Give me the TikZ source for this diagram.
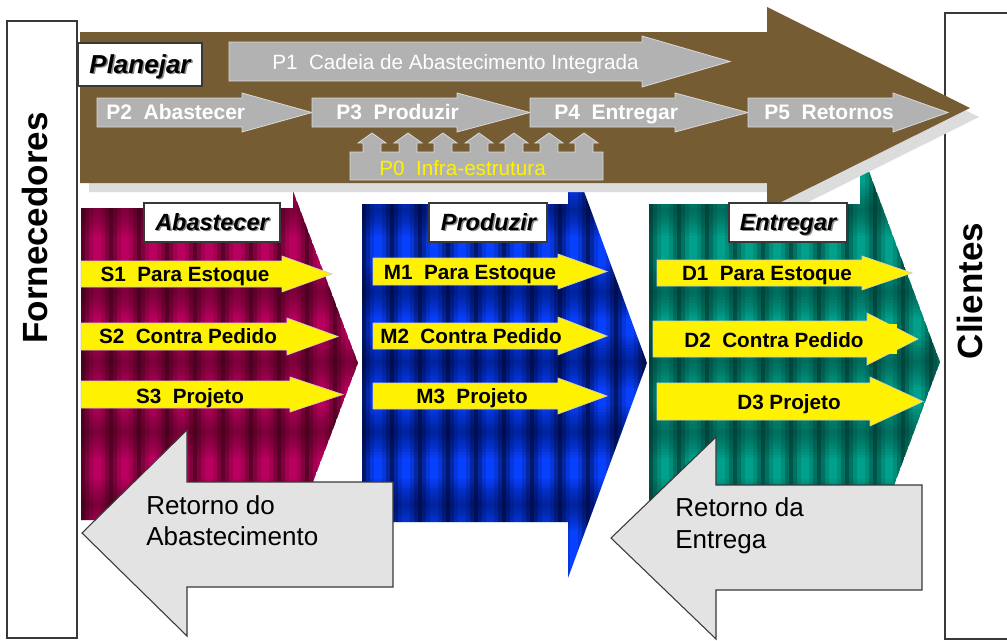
\documentclass[tikz,border=0pt]{standalone}
\usepackage{fontspec}
\setmainfont{Liberation Sans}
\definecolor{brownA}{HTML}{765C32}
\definecolor{shadowA}{HTML}{DCDCDC}
\definecolor{pgray}{HTML}{B2B2B2}
\definecolor{pborder}{HTML}{DADADA}
\definecolor{retgray}{HTML}{E3E3E3}
\definecolor{edgeA}{HTML}{383838}
\definecolor{mrB}{HTML}{BA005E}
\definecolor{mrD}{HTML}{3C0018}
\definecolor{blB}{HTML}{0840FF}
\definecolor{blD}{HTML}{000838}
\definecolor{tlB}{HTML}{00A08A}
\definecolor{tlD}{HTML}{003A32}
% chevron: #1 xl, #2 ytop, #3 ybot, #4 head base x, #5 tip x, #6 tip y, #7 head half height, #8 colour prefix, #9 columns
\newcommand\mychev[9]{%
\begin{scope}
\clip ({#1},{#2}) -- ({#4},{#2}) -- ({#4},{#6-#7}) -- ({#5},{#6}) -- ({#4},{#6+#7}) -- ({#4},{#3}) -- ({#1},{#3}) -- cycle;
\foreach \k in {0,...,#9} {%
  \foreach \s/\m in {0/75,1/45,2/18,3/0,4/0,5/18,6/45} {%
    \fill[#8D!\m!#8B] ({#1+28*\k+4*\s},{#6-#7}) rectangle ({#1+28*\k+4*\s+4.4},{#6+#7});}}
\foreach \yc in {210,292,362,432,505} {\foreach \h in {26,23,20,17,14,11,8,5,2} {\fill[#8D, opacity=0.065] ({#1},{\yc-\h}) rectangle ({#5},{\yc+\h});}}
\end{scope}}
% right arrow: #1 style, #2 x0, #3 head base x, #4 ytop, #5 ybot, #6 head extra, #7 tip x
\newcommand\rarrow[7]{%
\path[#1] ({#2},{#4}) -- ({#3},{#4}) -- ({#3},{#4-#6}) -- ({#7},{(#4+#5)/2}) -- ({#3},{#5+#6}) -- ({#3},{#5}) -- ({#2},{#5}) -- cycle;}
\begin{document}
\begin{tikzpicture}[x=0.75pt,y=-0.75pt,
  sidebox/.style={fill=white, draw=edgeA, line width=0.8pt},
  sidetext/.style={font=\fontsize{26.25}{30}\selectfont\bfseries, rotate=90, anchor=base, inner sep=0pt},
  parrow/.style={fill=pgray, draw=pborder, line width=0.6pt},
  yarrow/.style={fill=yellow, draw=white!80!black, line width=0.5pt},
  retarrow/.style={fill=retgray, draw=edgeA, line width=0.8pt},
  labelbox/.style={fill=white, draw=edgeA, line width=0.8pt},
  lbltext/.style={font=\fontsize{17.6}{20}\selectfont\bfseries\itshape, inner sep=0pt, anchor=base},
  pbold/.style={font=\fontsize{15.75}{18}\selectfont\bfseries, text=white, inner sep=0pt, anchor=base west},
  preg/.style={font=\fontsize{15.5}{18}\selectfont, inner sep=0pt, anchor=base west},
  ytext/.style={font=\fontsize{15.5}{18}\selectfont\bfseries, inner sep=0pt, anchor=base},
  rettext/.style={font=\fontsize{19.5}{23}\selectfont, inner sep=0pt, anchor=base west}]
\useasboundingbox (0,0) rectangle (1007,640);
\clip (0,0) rectangle (1007,640);
\fill[white] (0,0) rectangle (1007,640);

% side boxes
\path[sidebox] (7,21) rectangle (77,638);
\node[sidetext] (forn) at (47,228) {Fornecedores};
\path[sidebox] (945,13) rectangle (1015,639);
\node[sidetext] (cli) at (982,291) {Clientes};

% chevrons
\mychev{81}{208}{520}{293}{358}{363}{172}{mr}{9}
\mychev{362}{204}{522}{568}{647}{363}{215}{bl}{10}
\mychev{649}{204}{522}{860}{940}{362}{215}{tl}{10}

% big brown arrow with shadow
\fill[shadowA] (89,41) -- (776,41) -- (776,16) -- (979,117) -- (776,218) -- (776,192) -- (89,192) -- cycle;
\fill[brownA] (80,32) -- (767,32) -- (767,7) -- (970,108) -- (767,209) -- (767,183) -- (80,183) -- cycle;

% Planejar
\path[labelbox] (78,43) rectangle (202,86);
\node[lbltext, font=\fontsize{19.5}{22}\selectfont\bfseries\itshape, text=black!45] (planS) at (141.5,74.5) {Planejar};
\node[lbltext, font=\fontsize{19.5}{22}\selectfont\bfseries\itshape] (plan) at (140,73) {Planejar};

% P arrows
\rarrow{parrow}{229}{642}{42}{81}{6}{730}
\node[preg, text=white] (p1) at (272,69) {P1\ \ Cadeia de Abastecimento Integrada};
\rarrow{parrow}{97}{242}{98}{127}{5}{312}
\node[pbold] (p2) at (106,119) {P2\ \ Abastecer};
\rarrow{parrow}{312}{457}{98}{127}{5}{530}
\node[pbold] (p3) at (336,119) {P3\ \ Produzir};
\rarrow{parrow}{530}{675}{98}{127}{5}{748}
\node[pbold] (p4) at (554,119) {P4\ \ Entregar};
\rarrow{parrow}{748}{893}{98}{127}{5}{948}
\node[pbold] (p5) at (764,119) {P5\ \ Retornos};

% P0 infrastructure
\path[parrow] (350,180) -- (350,152)
  \foreach \c in {372,408,443,479,514,549,584} { -- ({\c-9},152) -- ({\c-9},143) -- ({\c-14},143) -- (\c,133) -- ({\c+14},143) -- ({\c+9},143) -- ({\c+9},152) }
  -- (603,152) -- (603,180) -- cycle;
\node[preg, text=yellow] (p0) at (379,175) {P0\ \ Infra-estrutura};

% yellow arrows
\rarrow{yarrow}{81}{282}{261}{287}{5}{332}
\node[ytext] (s1) at (185,281) {S1\ \ Para Estoque};
\rarrow{yarrow}{81}{287}{323}{350}{5}{338}
\node[ytext] (s2) at (188,343) {S2\ \ Contra Pedido};
\rarrow{yarrow}{81}{290}{381}{408}{4}{343}
\node[ytext] (s3) at (190,403) {S3\ \ Projeto};

\rarrow{yarrow}{373}{558}{258}{285}{4}{607}
\node[ytext] (m1) at (470,279) {M1\ \ Para Estoque};
\rarrow{yarrow}{373}{558}{323}{349}{6}{607}
\node[ytext] (m2) at (471,343) {M2\ \ Contra Pedido};
\rarrow{yarrow}{373}{558}{383}{409}{5}{607}
\node[ytext] (m3) at (472,403) {M3\ \ Projeto};

\rarrow{yarrow}{657}{862}{260}{286}{4}{912}
\node[ytext] (d1) at (767,280) {D1\ \ Para Estoque};
\rarrow{yarrow}{653}{867}{321}{357}{8}{918}
\fill[yellow] (653,324) rectangle (897,354);
\node[ytext] (d2) at (774,347) {D2\ \ Contra Pedido};
\rarrow{yarrow}{657}{870}{383}{420}{6}{923}
\node[ytext] (d3) at (789,409) {D3 Projeto};

% stage labels
\path[labelbox] (144,203) rectangle (280,242);
\node[lbltext, text=black!45] (abS) at (213.5,231.5) {Abastecer};
\node[lbltext] (ab) at (212,230) {Abastecer};
\path[labelbox] (429,203) rectangle (547,242);
\node[lbltext, text=black!45] (prS) at (490,231.5) {Produzir};
\node[lbltext] (pr) at (488.5,230) {Produzir};
\path[labelbox] (729,203) rectangle (847,242);
\node[lbltext, text=black!45] (enS) at (789.5,231.5) {Entregar};
\node[lbltext] (en) at (788,230) {Entregar};

% return arrows
\path[retarrow] (82,533) -- (187,430) -- (187,482) -- (393,482) -- (393,587) -- (187,587) -- (187,636) -- cycle;
\node[rettext] (ra1) at (146,514) {Retorno do};
\node[rettext] (ra2) at (146,545) {Abastecimento};
\path[retarrow] (611,538) -- (716,437) -- (716,485) -- (922,485) -- (922,590) -- (716,590) -- (716,639) -- cycle;
\node[rettext] (re1) at (675,516) {Retorno da};
\node[rettext] (re2) at (675,548) {Entrega};
\end{tikzpicture}
\end{document}
